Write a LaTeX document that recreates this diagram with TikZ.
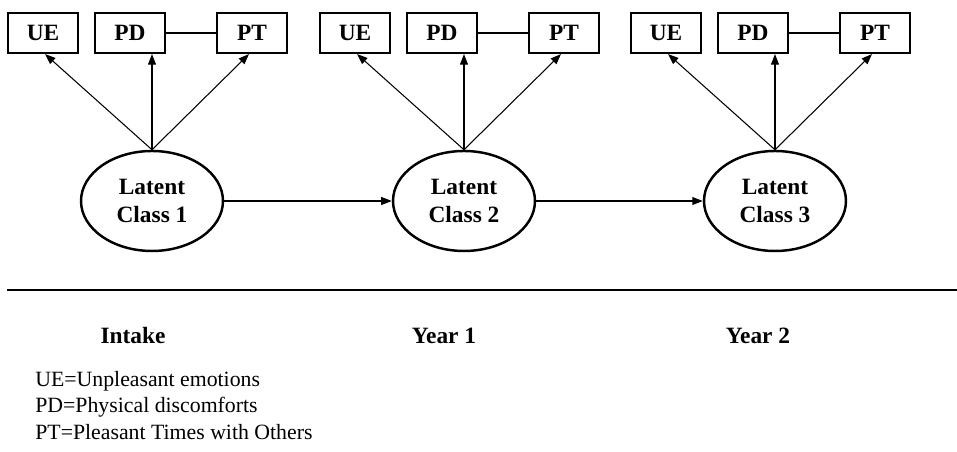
\documentclass[tikz,border=0pt]{standalone}
\usepackage{fontspec}
\setmainfont{Liberation Serif}
\usetikzlibrary{arrows.meta,shapes.geometric}

\tikzset{
  ind/.style={draw, line width=1.2pt, minimum width=1.4cm, minimum height=0.8cm,
    inner sep=0pt, font=\fontsize{13.3}{15.9}\selectfont\bfseries},
  latent/.style={draw, ellipse, line width=1.4pt, minimum width=2.84cm, minimum height=2cm,
    inner sep=0pt, align=center, font=\fontsize{13.3}{15.9}\selectfont\bfseries},
  load/.style={-{Triangle[length=6pt,width=4.5pt]}, line width=0.6pt},
  wave/.style={font=\fontsize{13.3}{15.9}\selectfont\bfseries},
  legend/.style={anchor=base west, inner sep=0pt, font=\fontsize{12.4}{14.7}\selectfont}
}

\begin{document}
\begin{tikzpicture}[x=0.02cm, y=-0.02cm]
\useasboundingbox (0,0) rectangle (957,452);

% latent classes
\node [latent] (lc1) at (152,201) {Latent\\Class 1};
\node [latent] (lc2) at (464,201) {Latent\\Class 2};
\node [latent] (lc3) at (775,201) {Latent\\Class 3};

% indicators and loadings
\foreach \i/\x in {1/152, 2/464, 3/775} {
  \node [ind] (ue\i) at (\x-109,33) {UE};
  \node [ind] (pd\i) at (\x-22,33) {PD};
  \node [ind] (pt\i) at (\x+100,33) {PT};
  \draw [line width=0.6pt] (pd\i) -- (pt\i);
  \draw [load] (lc\i.north) -- ([xshift=0.04cm]ue\i.south);
  \draw [load] (lc\i.north) -- (lc\i.north |- pd\i.south);
  \draw [load] (lc\i.north) -- ([xshift=-0.06cm]pt\i.south);
}

% transitions
\draw [load] (lc1) -- (lc2);
\draw [load] (lc2) -- (lc3);

% time axis
\coordinate (axl) at (7,290);
\coordinate (axr) at (957,290);
\draw [line width=0.6pt] (axl) -- (axr);
\node [wave] (t1) at (133,336) {Intake};
\node [wave] (t2) at (444,336) {Year 1};
\node [wave] (t3) at (758,336) {Year 2};

% legend
\node [legend] (leg1) at (35,387) {UE=Unpleasant emotions};
\node [legend] (leg2) at (35,413) {PD=Physical discomforts};
\node [legend] (leg3) at (35,439) {PT=Pleasant Times with Others};
\end{tikzpicture}
\end{document}
